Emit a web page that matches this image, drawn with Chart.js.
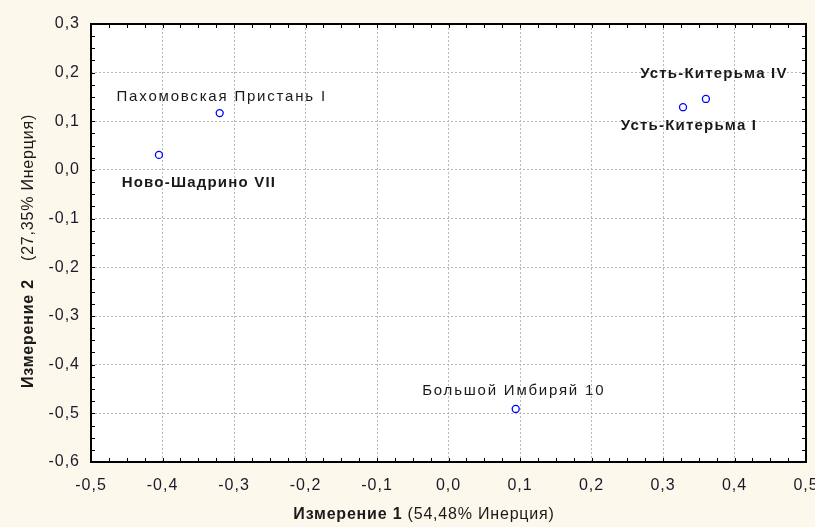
<!DOCTYPE html>
<html>
<head>
<meta charset="utf-8">
<script src="https://cdn.jsdelivr.net/npm/chart.js@4"></script>
<style>
  html, body { margin: 0; padding: 0; background: #fcf8ec; }
  canvas { display: block; }
</style>
</head>
<body>
<canvas id="c" width="815" height="527"></canvas>
<script>
// Correspondence analysis, sites on dimensions 1 and 2
const siteNames = ['Пахомовская Пристань I', 'Ново-Шадрино VII', 'Усть-Китерьма IV', 'Усть-Китерьма I', 'Большой Имбиряй 10'];
const dim1 = [-0.320, -0.405, 0.360, 0.328, 0.094];
const dim2 = [0.117, 0.031, 0.146, 0.129, -0.491];

const xTicks = [-0.5, -0.4, -0.3, -0.2, -0.1, 0.0, 0.1, 0.2, 0.3, 0.4, 0.5];
const yTicks = [-0.6, -0.5, -0.4, -0.3, -0.2, -0.1, 0.0, 0.1, 0.2, 0.3];

const xTitle = ['Измерение 1', ' (54,48% Инерция)'];
const yTitle = ['Измерение 2', '(27,35% Инерция)'];

// label placement relative to each point: [dx, dy, bold]
const labelPos = [
  [2, -16, false],
  [40, 28, true],
  [8, -25, true],
  [6, 19, true],
  [-2, -18, false]
];

const FONT = '"Liberation Sans", Arial, sans-serif';
const fmt = v => (Math.abs(v) < 1e-9 ? 0 : v).toFixed(1).replace('.', ',');

// cream page + white plot area
const bgPlugin = {
  id: 'bg',
  beforeDraw(chart) {
    const { ctx, chartArea: a } = chart;
    ctx.save();
    ctx.fillStyle = '#fcf8ec';
    ctx.fillRect(0, 0, chart.width, chart.height);
    ctx.fillStyle = '#ffffff';
    ctx.fillRect(a.left, a.top, a.right - a.left, a.bottom - a.top);
    ctx.restore();
    // wider spacing for the tick labels drawn next
    ctx.letterSpacing = '1px';
  }
};

// black frame with inward ticks on all four sides
const framePlugin = {
  id: 'frame',
  afterDraw(chart) {
    const { ctx, chartArea: a, scales } = chart;
    ctx.save();
    ctx.strokeStyle = '#000';
    ctx.lineWidth = 1;
    ctx.beginPath();
    for (let v = -0.5; v <= 0.5001; v += 0.025) {
      const px = Math.round(scales.x.getPixelForValue(v)) + 0.5;
      ctx.moveTo(px, a.bottom); ctx.lineTo(px, a.bottom - 4);
      ctx.moveTo(px, a.top); ctx.lineTo(px, a.top + 4);
    }
    for (let v = -0.6; v <= 0.3001; v += 0.025) {
      const py = Math.round(scales.y.getPixelForValue(v)) + 0.5;
      ctx.moveTo(a.left, py); ctx.lineTo(a.left + 4, py);
      ctx.moveTo(a.right, py); ctx.lineTo(a.right - 4, py);
    }
    ctx.stroke();
    ctx.lineWidth = 2;
    ctx.strokeRect(a.left, a.top, a.right - a.left, a.bottom - a.top);

    // point labels
    ctx.textAlign = 'center';
    ctx.textBaseline = 'middle';
    ctx.fillStyle = '#1a1a1a';
    const meta = chart.getDatasetMeta(0);
    meta.data.forEach((pt, i) => {
      const [dx, dy, bold] = labelPos[i];
      ctx.font = (bold ? 'bold ' : '') + '15px ' + FONT;
      ctx.letterSpacing = bold ? '1.2px' : '1.8px';
      ctx.fillText(siteNames[i], pt.x + dx, pt.y + dy);
    });

    // axis titles: bold dimension name + regular inertia share
    ctx.letterSpacing = '0.8px';
    ctx.textAlign = 'left';
    ctx.font = 'bold 16px ' + FONT;
    const w1 = ctx.measureText(xTitle[0]).width;
    ctx.font = '16px ' + FONT;
    const w2 = ctx.measureText(xTitle[1]).width;
    let x0 = 424 - (w1 + w2) / 2;
    ctx.font = 'bold 16px ' + FONT;
    ctx.fillText(xTitle[0], x0, 515);
    ctx.font = '16px ' + FONT;
    ctx.fillText(xTitle[1], x0 + w1, 515);

    ctx.translate(29, 0);
    ctx.rotate(-Math.PI / 2);
    ctx.font = 'bold 16px ' + FONT;
    ctx.fillText(yTitle[0], -388, 0);
    ctx.font = '16px ' + FONT;
    ctx.fillText(yTitle[1], -261, 0);
    ctx.restore();
  }
};

const gridOpts = {
  color: '#b8b8b8',
  drawTicks: false
};

new Chart(document.getElementById('c'), {
  type: 'scatter',
  data: {
    datasets: [{
      data: dim1.map((x, i) => ({ x: x, y: dim2[i] })),
      pointStyle: 'circle',
      pointRadius: 3.5,
      pointHoverRadius: 3.5,
      pointBorderWidth: 1.3,
      borderColor: '#0000ff',
      backgroundColor: 'rgba(255,255,255,1)'
    }]
  },
  options: {
    responsive: false,
    animation: false,
    devicePixelRatio: 1,
    layout: { padding: { top: 24, right: 9, left: 0, bottom: 0 } },
    plugins: { legend: { display: false }, tooltip: { enabled: false } },
    scales: {
      x: {
        type: 'linear',
        min: -0.5, max: 0.5,
        afterBuildTicks: s => { s.ticks = xTicks.map(v => ({ value: v })); },
        afterFit: s => { s.height = 65; s.paddingLeft = 0; s.paddingRight = 0; },
        grid: gridOpts,
        border: { display: false, dash: [2, 2] },
        ticks: {
          padding: 14,
          color: '#1a1a2a',
          font: { family: FONT, size: 16 },
          maxRotation: 0,
          callback: v => fmt(v)
        }
      },
      y: {
        type: 'linear',
        min: -0.6, max: 0.3,
        afterBuildTicks: s => { s.ticks = yTicks.map(v => ({ value: v })); },
        afterFit: s => { s.width = 91; s.paddingTop = 0; s.paddingBottom = 0; },
        grid: gridOpts,
        border: { display: false, dash: [2, 2] },
        ticks: {
          padding: 11,
          color: '#1a1a2a',
          font: { family: FONT, size: 16 },
          callback: v => fmt(v)
        }
      }
    }
  },
  plugins: [bgPlugin, framePlugin]
});
</script>
</body>
</html>
